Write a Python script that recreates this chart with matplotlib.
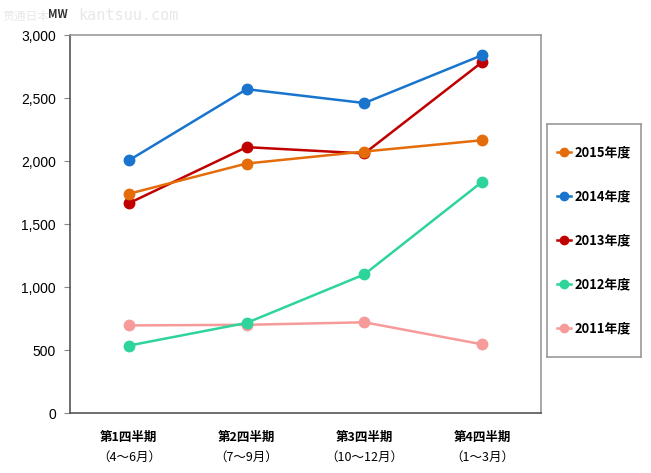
import matplotlib
matplotlib.use("Agg")
import matplotlib.pyplot as plt
from matplotlib.lines import Line2D

plt.rcParams['font.family'] = ['Noto Sans CJK JP', 'DejaVu Sans']

quarters = ["第1四半期", "第2四半期", "第3四半期", "第4四半期"]
months = ["（4～6月）", "（7～9月）", "（10～12月）", "（1～3月）"]
series_names = ["2015年度", "2014年度", "2013年度", "2012年度", "2011年度"]
v2015 = [1740, 1980, 2075, 2165]
v2014 = [2005, 2570, 2460, 2840]
v2013 = [1665, 2110, 2060, 2785]
v2012 = [535, 715, 1100, 1835]
v2011 = [695, 700, 720, 545]
values = [v2015, v2014, v2013, v2012, v2011]
colors = ["#E46C0A", "#1874CD", "#C00000", "#2DD59B", "#F79A9A"]
yticks = [0, 500, 1000, 1500, 2000, 2500, 3000]

fig = plt.figure(figsize=(6.51, 4.73), dpi=100)
ax = fig.add_axes([70/651, 60/473, 471/651, 378/473])

x = list(range(len(quarters)))
for name, vals, c in reversed(list(zip(series_names, values, colors))):
    ax.plot(x, vals, color=c, lw=1.8, marker='o', ms=7.5, label=name, zorder=3)

ax.set_xlim(-0.5, 3.5)
ax.set_ylim(0, 3000)
ax.set_yticks(yticks)
ax.set_yticklabels([f"{v:,}" for v in yticks], fontsize=10, family=['Liberation Sans', 'DejaVu Sans'])
ax.tick_params(axis='y', length=4, color='#888888', pad=6)
ax.set_xticks(x)
ax.set_xticklabels(quarters, fontsize=9, fontweight='bold')
ax.tick_params(axis='x', length=0, pad=13)
for xi, m in zip(x, months):
    ax.text(xi, -0.118, m, transform=ax.get_xaxis_transform(), ha='center', va='center',
            fontsize=9)

for s in ['left', 'bottom']:
    ax.spines[s].set_color('#555555')
    ax.spines[s].set_linewidth(1.2)
for s in ['top', 'right']:
    ax.spines[s].set_color('#999999')
    ax.spines[s].set_linewidth(1.2)

# legend box as its own axes
lax = fig.add_axes([547/651, 1 - 357/473, 94/651, 233/473])
lax.set_xticks([])
lax.set_yticks([])
for s in lax.spines.values():
    s.set_color('#999999')
    s.set_linewidth(1.2)
handles = [Line2D([0], [0], color=c, lw=1.8, marker='o', ms=6) for c in colors]
leg = lax.legend(handles, series_names, loc='center', frameon=False,
                 labelspacing=2.33, handlelength=1.1, handletextpad=0.25,
                 borderpad=0, prop={'size': 9.3, 'weight': 'bold'})

fig.text(48/651, 1 - 15/473, "MW", fontsize=8, style='italic', fontweight='bold',
         color='#333333', va='center')
fig.text(2/651, 1 - 16/473, "贯通日本", fontsize=8.5, color='#e8e8e8', va='center', zorder=0)
fig.text(78/651, 1 - 16/473, "kantsuu.com", fontsize=11, color='#e8e8e8', va='center',
         zorder=0, family=['DejaVu Sans Mono'])

fig.savefig("out.png", dpi=100)
